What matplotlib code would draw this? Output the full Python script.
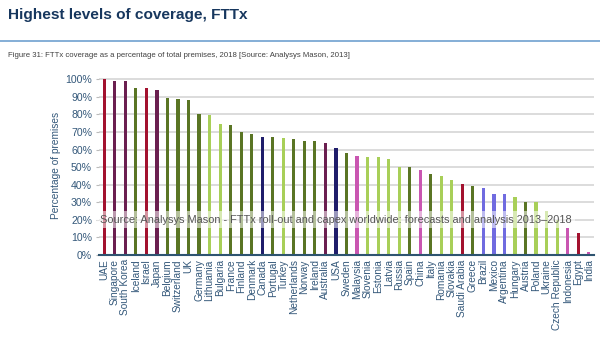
import numpy as np
import matplotlib.pyplot as plt
from matplotlib.ticker import PercentFormatter

plt.rcParams['font.family'] = ['Liberation Sans', 'DejaVu Sans']

# FTTx coverage, 2018 (share of premises)
countries = ['UAE', 'Singapore', 'South Korea', 'Iceland', 'Israel', 'Japan', 'Belgium',
             'Switzerland', 'UK', 'Germany', 'Lithuania', 'Bulgaria', 'France', 'Finland',
             'Denmark', 'Canada', 'Portugal', 'Turkey', 'Netherlands', 'Norway', 'Ireland',
             'Australia', 'USA', 'Sweden', 'Malaysia', 'Slovenia', 'Estonia', 'Latvia',
             'Russia', 'Spain', 'China', 'Italy', 'Romania', 'Slovakia', 'Saudi Arabia',
             'Greece', 'Brazil', 'Mexico', 'Argentina', 'Hungary', 'Austria', 'Poland',
             'Ukraine', 'Czech Republic', 'Indonesia', 'Egypt', 'India']
coverage = [100, 99, 99, 95, 95, 94, 89.5, 88.5, 88, 80, 79.8, 74.3, 73.7, 69.9, 68.6, 67,
            67, 66.8, 65.7, 64.9, 64.6, 63.6, 60.7, 57.8, 56.2, 55.9, 55.5, 54.7, 50, 50,
            48.5, 46, 44.7, 42.6, 40.3, 39.4, 38, 34.7, 34.5, 32.8, 30.3, 29.9, 24.8, 20,
            15.2, 12.5, 1.7]
regions = ['MEA', 'APD', 'APD', 'WE', 'MEA', 'APD', 'WE', 'WE', 'WE', 'WE', 'CEE', 'CEE',
           'WE', 'WE', 'WE', 'NA', 'WE', 'CEE', 'WE', 'WE', 'WE', 'APD', 'NA', 'WE', 'EAP',
           'CEE', 'CEE', 'CEE', 'CEE', 'WE', 'EAP', 'WE', 'CEE', 'CEE', 'MEA', 'WE', 'LA',
           'LA', 'LA', 'CEE', 'WE', 'CEE', 'CEE', 'CEE', 'EAP', 'MEA', 'EAP']

region_colors = {'MEA': '#A3122F', 'APD': '#6B1F50', 'WE': '#5A7524', 'CEE': '#A8CF58',
                 'NA': '#1F1D6B', 'EAP': '#C956B1', 'LA': '#706BE0'}

fig = plt.figure(figsize=(6, 3.39), dpi=100)

# header
fig.text(0.013, 0.955, 'Highest levels of coverage, FTTx', fontsize=11.1, fontweight='bold',
         color='#17375E', va='center')
fig.add_artist(plt.Line2D([0, 1], [0.88, 0.88], color='#6FA1CF', lw=1.2))
fig.text(0.013, 0.835, 'Figure 31: FTTx coverage as a percentage of total premises, 2018 '
         '[Source: Analysys Mason, 2013]', fontsize=5.55, color='#404040', va='center')

ax = fig.add_axes([0.165, 0.2478, 0.825, 0.529])
x = np.arange(len(countries))
ax.bar(x, np.array(coverage) / 100, width=0.3,
       color=[region_colors[r] for r in regions], zorder=2)

ax.set_xlim(-0.5, len(countries) - 0.5)
ax.set_ylim(0, 1.02)
ax.set_yticks(np.arange(0, 1.01, 0.1))
ax.yaxis.set_major_formatter(PercentFormatter(1.0, decimals=0))
ax.grid(axis='y', color='#D9D9D9', lw=1.3, zorder=0)
for s in ['top', 'right', 'left']:
    ax.spines[s].set_visible(False)
ax.spines['bottom'].set_color('#2E5470')
ax.spines['bottom'].set_linewidth(1.5)
ax.spines['bottom'].set_zorder(3)

ax.set_xticks(x)
ax.set_xticklabels(countries, rotation=90, fontsize=7.3, color='#34587A')
ax.tick_params(axis='x', length=0, pad=3)
ax.tick_params(axis='y', length=2, color='#BBBBBB', labelsize=7.6, labelcolor='#34587A', pad=3)
ax.set_ylabel('Percentage of premises', fontsize=7.3, color='#34587A', labelpad=3)

# source watermark over the bars
ax.text(-0.4, 0.2, 'Source: Analysys Mason - FTTx roll-out and capex worldwide: '
        'forecasts and analysis 2013\u20132018', fontsize=7.9, color='#555555',
        va='center', ha='left', zorder=4,
        bbox=dict(facecolor='white', alpha=0.55, edgecolor='none', pad=2.5))

fig.savefig('out.png', dpi=100)
